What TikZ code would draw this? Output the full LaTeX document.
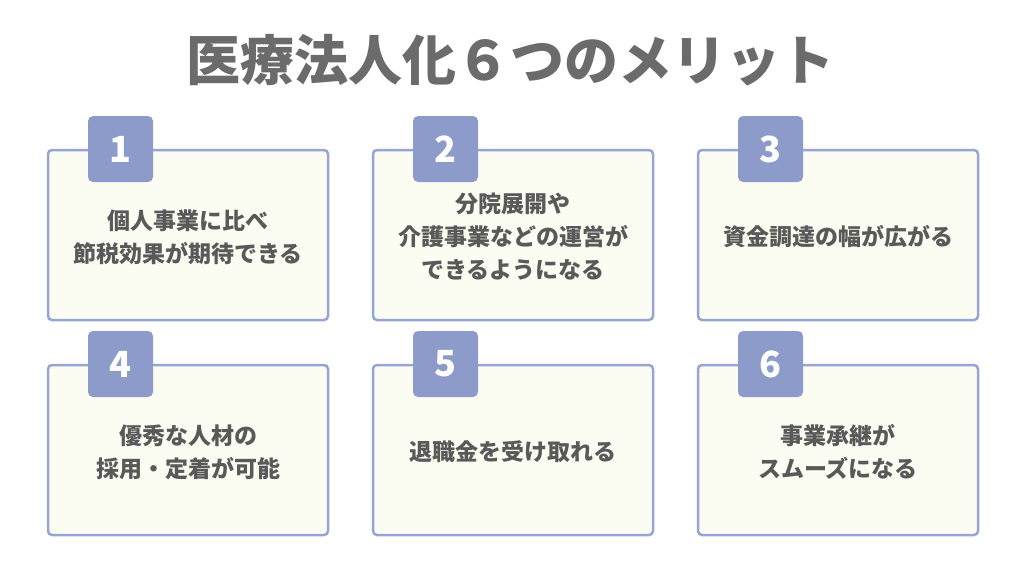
\documentclass[tikz,border=0pt]{standalone}
\usepackage{fontspec}
\setmainfont{Noto Sans CJK JP}
\usepackage{tikz}
\usetikzlibrary{positioning}

\definecolor{tabblue}{HTML}{8D9BCB}
\definecolor{lineblue}{HTML}{97A5D4}
\definecolor{cream}{HTML}{FBFDF3}
\definecolor{txtgray}{HTML}{595959}
\definecolor{titlegray}{HTML}{6B6B6B}

\tikzset{
  meritbox/.style={draw=lineblue, line width=2.5pt, fill=cream, rounded corners=4pt,
    minimum width=280pt, minimum height=170pt, anchor=north west, inner sep=0pt, outer sep=0pt},
  numtab/.style={fill=tabblue, rounded corners=5pt, minimum width=65pt, minimum height=66pt,
    anchor=north west, inner sep=0pt, outer sep=0pt, text=white,
    font=\fontsize{36}{40}\selectfont\bfseries},
  merittext/.style={align=center, text=txtgray, font=\fontsize{23}{33}\selectfont\bfseries}
}

\begin{document}
\begin{tikzpicture}[x=1pt, y=-1pt]
    \useasboundingbox (0,0) rectangle (1024,581);

    % Title
    \node[text=titlegray, font=\fontsize{54}{60}\selectfont\bfseries] (title) at (510,60) {医療法人化６つのメリット};

    % Boxes with number tabs
    \foreach \i/\x/\y/\txt in {1/48/150/{個人事業に比べ\\節税効果が期待できる},
                              2/373/150/{分院展開や\\介護事業などの運営が\\できるようになる},
                              3/698/150/{資金調達の幅が広がる},
                              4/48/365/{優秀な人材の\\採用・定着が可能},
                              5/373/365/{退職金を受け取れる},
                              6/698/365/{事業承継が\\スムーズになる}} {
      \node[meritbox] (box\i) at (\x,\y) {};
      \node[numtab] (tab\i) at ([xshift=40pt, yshift=34pt]box\i.north west) {\i};
      \node[merittext] (txt\i) at ([yshift=-2pt]box\i.center) {\txt};
    }
\end{tikzpicture}
\end{document}
